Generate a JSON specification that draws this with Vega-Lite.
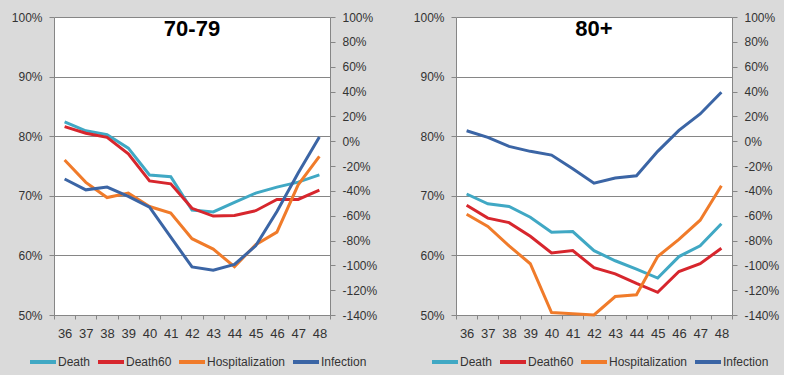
{
  "$schema": "https://vega.github.io/schema/vega-lite/v6.json",
  "background": "#dadada",
  "padding": {"top": 11, "left": 11, "right": 5, "bottom": 5},
  "spacing": 36,
  "config": {
    "font": "Liberation Sans",
    "view": {"fill": "white", "stroke": null},
    "axis": {"domainColor": "#868686", "tickColor": "#868686", "gridColor": "#868686", "labelColor": "#333333", "labelFont": "Liberation Sans", "labelFontSize": 12, "title": null},
    "legend": {"labelFont": "Liberation Sans", "labelFontSize": 12, "labelColor": "#333333"}
  },
  "datasets": {
    "titles": [{"panel": "70-79"}, {"panel": "80+"}]
  },
  "data": {"values": [
    {"panel": "70-79", "week": "36", "series": "Death", "value": 82.4},
    {"panel": "70-79", "week": "37", "series": "Death", "value": 80.9},
    {"panel": "70-79", "week": "38", "series": "Death", "value": 80.25},
    {"panel": "70-79", "week": "39", "series": "Death", "value": 78.0},
    {"panel": "70-79", "week": "40", "series": "Death", "value": 73.5},
    {"panel": "70-79", "week": "41", "series": "Death", "value": 73.2},
    {"panel": "70-79", "week": "42", "series": "Death", "value": 67.6},
    {"panel": "70-79", "week": "43", "series": "Death", "value": 67.3},
    {"panel": "70-79", "week": "44", "series": "Death", "value": 68.9},
    {"panel": "70-79", "week": "45", "series": "Death", "value": 70.45},
    {"panel": "70-79", "week": "46", "series": "Death", "value": 71.45},
    {"panel": "70-79", "week": "47", "series": "Death", "value": 72.3},
    {"panel": "70-79", "week": "48", "series": "Death", "value": 73.5},
    {"panel": "70-79", "week": "36", "series": "Death60", "value": 81.6},
    {"panel": "70-79", "week": "37", "series": "Death60", "value": 80.5},
    {"panel": "70-79", "week": "38", "series": "Death60", "value": 79.8},
    {"panel": "70-79", "week": "39", "series": "Death60", "value": 77.05},
    {"panel": "70-79", "week": "40", "series": "Death60", "value": 72.5},
    {"panel": "70-79", "week": "41", "series": "Death60", "value": 72.0},
    {"panel": "70-79", "week": "42", "series": "Death60", "value": 67.9},
    {"panel": "70-79", "week": "43", "series": "Death60", "value": 66.6},
    {"panel": "70-79", "week": "44", "series": "Death60", "value": 66.7},
    {"panel": "70-79", "week": "45", "series": "Death60", "value": 67.5},
    {"panel": "70-79", "week": "46", "series": "Death60", "value": 69.4},
    {"panel": "70-79", "week": "47", "series": "Death60", "value": 69.4},
    {"panel": "70-79", "week": "48", "series": "Death60", "value": 70.95},
    {"panel": "70-79", "week": "36", "series": "Hospitalization", "value": 76.0},
    {"panel": "70-79", "week": "37", "series": "Hospitalization", "value": 72.25},
    {"panel": "70-79", "week": "38", "series": "Hospitalization", "value": 69.7},
    {"panel": "70-79", "week": "39", "series": "Hospitalization", "value": 70.45},
    {"panel": "70-79", "week": "40", "series": "Hospitalization", "value": 68.2},
    {"panel": "70-79", "week": "41", "series": "Hospitalization", "value": 67.1},
    {"panel": "70-79", "week": "42", "series": "Hospitalization", "value": 62.8},
    {"panel": "70-79", "week": "43", "series": "Hospitalization", "value": 61.05},
    {"panel": "70-79", "week": "44", "series": "Hospitalization", "value": 58.1},
    {"panel": "70-79", "week": "45", "series": "Hospitalization", "value": 61.8},
    {"panel": "70-79", "week": "46", "series": "Hospitalization", "value": 63.9},
    {"panel": "70-79", "week": "47", "series": "Hospitalization", "value": 71.85},
    {"panel": "70-79", "week": "48", "series": "Hospitalization", "value": 76.6},
    {"panel": "70-79", "week": "36", "series": "Infection", "value": -30.5},
    {"panel": "70-79", "week": "37", "series": "Infection", "value": -39.2},
    {"panel": "70-79", "week": "38", "series": "Infection", "value": -37.0},
    {"panel": "70-79", "week": "39", "series": "Infection", "value": -44.5},
    {"panel": "70-79", "week": "40", "series": "Infection", "value": -53.1},
    {"panel": "70-79", "week": "41", "series": "Infection", "value": -77.3},
    {"panel": "70-79", "week": "42", "series": "Infection", "value": -101.3},
    {"panel": "70-79", "week": "43", "series": "Infection", "value": -104.0},
    {"panel": "70-79", "week": "44", "series": "Infection", "value": -99.2},
    {"panel": "70-79", "week": "45", "series": "Infection", "value": -84.3},
    {"panel": "70-79", "week": "46", "series": "Infection", "value": -56.6},
    {"panel": "70-79", "week": "47", "series": "Infection", "value": -25.7},
    {"panel": "70-79", "week": "48", "series": "Infection", "value": 3.3},
    {"panel": "80+", "week": "36", "series": "Death", "value": 70.3},
    {"panel": "80+", "week": "37", "series": "Death", "value": 68.65},
    {"panel": "80+", "week": "38", "series": "Death", "value": 68.2},
    {"panel": "80+", "week": "39", "series": "Death", "value": 66.4},
    {"panel": "80+", "week": "40", "series": "Death", "value": 63.9},
    {"panel": "80+", "week": "41", "series": "Death", "value": 64.0},
    {"panel": "80+", "week": "42", "series": "Death", "value": 60.8},
    {"panel": "80+", "week": "43", "series": "Death", "value": 59.1},
    {"panel": "80+", "week": "44", "series": "Death", "value": 57.7},
    {"panel": "80+", "week": "45", "series": "Death", "value": 56.2},
    {"panel": "80+", "week": "46", "series": "Death", "value": 59.8},
    {"panel": "80+", "week": "47", "series": "Death", "value": 61.6},
    {"panel": "80+", "week": "48", "series": "Death", "value": 65.3},
    {"panel": "80+", "week": "36", "series": "Death60", "value": 68.4},
    {"panel": "80+", "week": "37", "series": "Death60", "value": 66.25},
    {"panel": "80+", "week": "38", "series": "Death60", "value": 65.5},
    {"panel": "80+", "week": "39", "series": "Death60", "value": 63.2},
    {"panel": "80+", "week": "40", "series": "Death60", "value": 60.4},
    {"panel": "80+", "week": "41", "series": "Death60", "value": 60.8},
    {"panel": "80+", "week": "42", "series": "Death60", "value": 57.95},
    {"panel": "80+", "week": "43", "series": "Death60", "value": 56.9},
    {"panel": "80+", "week": "44", "series": "Death60", "value": 55.3},
    {"panel": "80+", "week": "45", "series": "Death60", "value": 53.8},
    {"panel": "80+", "week": "46", "series": "Death60", "value": 57.3},
    {"panel": "80+", "week": "47", "series": "Death60", "value": 58.6},
    {"panel": "80+", "week": "48", "series": "Death60", "value": 61.2},
    {"panel": "80+", "week": "36", "series": "Hospitalization", "value": 66.9},
    {"panel": "80+", "week": "37", "series": "Hospitalization", "value": 64.85},
    {"panel": "80+", "week": "38", "series": "Hospitalization", "value": 61.6},
    {"panel": "80+", "week": "39", "series": "Hospitalization", "value": 58.6},
    {"panel": "80+", "week": "40", "series": "Hospitalization", "value": 50.4},
    {"panel": "80+", "week": "41", "series": "Hospitalization", "value": 50.2},
    {"panel": "80+", "week": "42", "series": "Hospitalization", "value": 50.0},
    {"panel": "80+", "week": "43", "series": "Hospitalization", "value": 53.1},
    {"panel": "80+", "week": "44", "series": "Hospitalization", "value": 53.4},
    {"panel": "80+", "week": "45", "series": "Hospitalization", "value": 59.8},
    {"panel": "80+", "week": "46", "series": "Hospitalization", "value": 62.7},
    {"panel": "80+", "week": "47", "series": "Hospitalization", "value": 65.9},
    {"panel": "80+", "week": "48", "series": "Hospitalization", "value": 71.7},
    {"panel": "80+", "week": "36", "series": "Infection", "value": 8.4},
    {"panel": "80+", "week": "37", "series": "Infection", "value": 3.1},
    {"panel": "80+", "week": "38", "series": "Infection", "value": -4.2},
    {"panel": "80+", "week": "39", "series": "Infection", "value": -8.2},
    {"panel": "80+", "week": "40", "series": "Infection", "value": -11.2},
    {"panel": "80+", "week": "41", "series": "Infection", "value": -22.2},
    {"panel": "80+", "week": "42", "series": "Infection", "value": -33.8},
    {"panel": "80+", "week": "43", "series": "Infection", "value": -29.75},
    {"panel": "80+", "week": "44", "series": "Infection", "value": -27.9},
    {"panel": "80+", "week": "45", "series": "Infection", "value": -8.2},
    {"panel": "80+", "week": "46", "series": "Infection", "value": 8.7},
    {"panel": "80+", "week": "47", "series": "Infection", "value": 21.9},
    {"panel": "80+", "week": "48", "series": "Infection", "value": 39.4}
  ]},
  "resolve": {"scale": {"color": "independent"}, "legend": {"color": "independent"}},
  "hconcat": [
    {
      "width": 276, "height": 298,
      "transform": [{"filter": "datum.panel === '70-79'"}],
      "layer": [
        {
          "transform": [{"filter": "datum.series !== 'Infection'"}],
          "mark": {"type": "line", "strokeWidth": 3},
          "encoding": {
            "x": {"field": "week", "type": "ordinal", "scale": {"type": "band", "paddingInner": 0, "paddingOuter": 0}, "axis": {"tickBand": "extent", "labelAngle": 0, "tickSize": 4, "labelPadding": 8, "labelFontSize": 13}},
            "y": {"field": "value", "type": "quantitative", "scale": {"domain": [50, 100]}, "axis": {"orient": "left", "values": [50, 60, 70, 80, 90, 100], "labelExpr": "datum.value + '%'", "grid": true, "tickSize": 5, "labelPadding": 7}},
            "color": {"field": "series", "type": "nominal", "scale": {"domain": ["Death", "Death60", "Hospitalization", "Infection"], "range": ["#40A8C4", "#D7262D", "#F07B2A", "#3B65A5"]},
              "legend": {"title": null, "orient": "none", "direction": "horizontal", "legendX": -26, "legendY": 330, "symbolType": "stroke", "symbolSize": 676, "symbolStrokeWidth": 4, "labelOffset": 0, "columnPadding": -1}}
          }
        },
        {
          "transform": [{"filter": "datum.series === 'Infection'"}],
          "mark": {"type": "line", "strokeWidth": 3},
          "encoding": {
            "x": {"field": "week", "type": "ordinal"},
            "y": {"field": "value", "type": "quantitative", "scale": {"domain": [-140, 100]}, "axis": {"orient": "right", "values": [-140, -120, -100, -80, -60, -40, -20, 0, 20, 40, 60, 80, 100], "labelExpr": "datum.value + '%'", "grid": false, "tickSize": 5, "labelPadding": 7}},
            "color": {"field": "series", "type": "nominal"}
          }
        },
        {
          "data": {"name": "titles"},
          "transform": [{"filter": "datum.panel === '70-79'"}],
          "mark": {"type": "text", "font": "Liberation Sans", "fontSize": 22, "fontWeight": "bold", "color": "#000000", "baseline": "alphabetic", "align": "center"},
          "encoding": {
            "x": {"datum": "42", "type": "ordinal"},
            "y": {"datum": 96.8, "type": "quantitative", "scale": {"domain": [50, 100]}, "axis": null},
            "text": {"field": "panel"}
          }
        }
      ],
      "resolve": {"scale": {"y": "independent"}}
    },
    {
      "width": 276, "height": 298,
      "transform": [{"filter": "datum.panel === '80+'"}],
      "layer": [
        {
          "transform": [{"filter": "datum.series !== 'Infection'"}],
          "mark": {"type": "line", "strokeWidth": 3},
          "encoding": {
            "x": {"field": "week", "type": "ordinal", "scale": {"type": "band", "paddingInner": 0, "paddingOuter": 0}, "axis": {"tickBand": "extent", "labelAngle": 0, "tickSize": 4, "labelPadding": 8, "labelFontSize": 13}},
            "y": {"field": "value", "type": "quantitative", "scale": {"domain": [50, 100]}, "axis": {"orient": "left", "values": [50, 60, 70, 80, 90, 100], "labelExpr": "datum.value + '%'", "grid": true, "tickSize": 5, "labelPadding": 7}},
            "color": {"field": "series", "type": "nominal", "scale": {"domain": ["Death", "Death60", "Hospitalization", "Infection"], "range": ["#40A8C4", "#D7262D", "#F07B2A", "#3B65A5"]},
              "legend": {"title": null, "orient": "none", "direction": "horizontal", "legendX": -26, "legendY": 330, "symbolType": "stroke", "symbolSize": 676, "symbolStrokeWidth": 4, "labelOffset": 0, "columnPadding": -1}}
          }
        },
        {
          "transform": [{"filter": "datum.series === 'Infection'"}],
          "mark": {"type": "line", "strokeWidth": 3},
          "encoding": {
            "x": {"field": "week", "type": "ordinal"},
            "y": {"field": "value", "type": "quantitative", "scale": {"domain": [-140, 100]}, "axis": {"orient": "right", "values": [-140, -120, -100, -80, -60, -40, -20, 0, 20, 40, 60, 80, 100], "labelExpr": "datum.value + '%'", "grid": false, "tickSize": 5, "labelPadding": 7}},
            "color": {"field": "series", "type": "nominal"}
          }
        },
        {
          "data": {"name": "titles"},
          "transform": [{"filter": "datum.panel === '80+'"}],
          "mark": {"type": "text", "font": "Liberation Sans", "fontSize": 22, "fontWeight": "bold", "color": "#000000", "baseline": "alphabetic", "align": "center"},
          "encoding": {
            "x": {"datum": "42", "type": "ordinal"},
            "y": {"datum": 96.8, "type": "quantitative", "scale": {"domain": [50, 100]}, "axis": null},
            "text": {"field": "panel"}
          }
        }
      ],
      "resolve": {"scale": {"y": "independent"}}
    }
  ]
}
